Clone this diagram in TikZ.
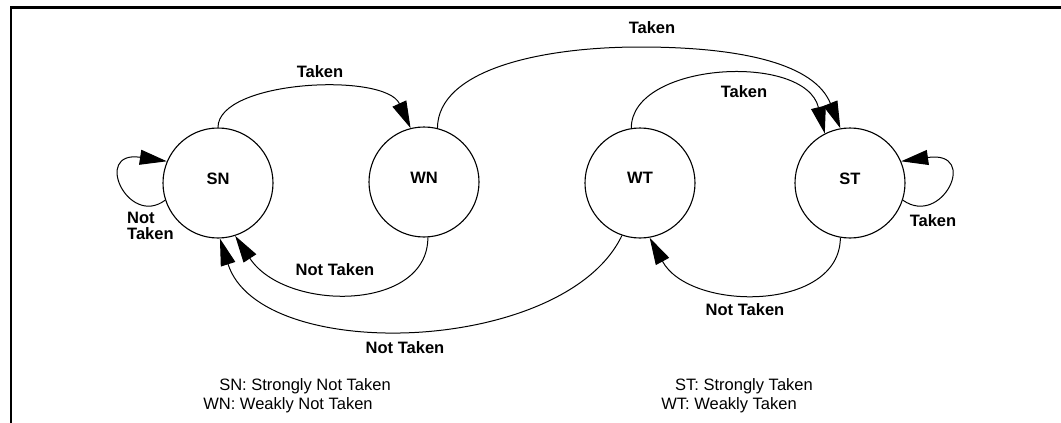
\documentclass[tikz,border=0pt]{standalone}
\usepackage{fontspec}
\setmainfont{Liberation Sans}
\usetikzlibrary{arrows.meta}
\tikzset{
  state/.style={circle, draw, line width=1.1pt, minimum size=110pt, inner sep=0pt,
    font=\bfseries\fontsize{16.5}{18}\selectfont},
  edge/.style={line width=1pt, -{Triangle[length=27pt,width=15pt]}},
  elabel/.style={font=\bfseries\fontsize{16.5}{18}\selectfont, inner sep=0pt},
  legend/.style={font=\fontsize{16.5}{19}\selectfont, inner sep=0pt},
  frame/.style={line width=2.2pt}
}
\begin{document}
\begin{tikzpicture}[x=1pt,y=-1pt]
\useasboundingbox (0,0) rectangle (1061,423);
\draw[frame] (1061,7.5) -- (11,7.5) -- (11,423);

\node[state] (SN) at (218,183) {\raisebox{9pt}{SN}};
\node[state] (WN) at (424,182) {\raisebox{9pt}{WN}};
\node[state] (WT) at (640,183) {\raisebox{10pt}{WT}};
\node[state] (ST) at (850,183) {\raisebox{9pt}{ST}};

% Taken transitions (top)
\draw[edge] (SN.90) .. controls (218,80) and (385,72) .. (WN.104);
\draw[edge] (WN.76) .. controls (438,70) and (540,47) .. (640,47)
                    .. controls (745,47) and (815,65) .. (ST.100);
\draw[edge] (WT.99) .. controls (631,62) and (805,52) .. (ST.117);

% Not Taken transitions (bottom)
\draw[edge] (WN.274) .. controls (428,312) and (285,312) .. (SN.288);
\draw[edge] (WT.251) .. controls (565,355) and (260,365) .. (SN.272);
\draw[edge] (ST.260) .. controls (840,312) and (690,312) .. (WT.280);

% self loops
\draw[edge] (SN.198) .. controls (128,228) and (92,150) .. (SN.157);
\draw[edge] (ST.-18) .. controls (942,228) and (980,150) .. (ST.23);

% labels
\node[elabel] (l1) at (320,72) {Taken};
\node[elabel] (l2) at (652,28) {Taken};
\node[elabel] (l3) at (744,92) {Taken};
\node[elabel] (l4) at (335,270) {Not Taken};
\node[elabel] (l5) at (405,348) {Not Taken};
\node[elabel] (l6) at (745,310) {Not Taken};
\node[elabel, align=left, anchor=west] (l7) at (127,226) {Not\\[-2pt]Taken};
\node[elabel] (l8) at (933,221) {Taken};

% legend
\node[legend] (g1) at (305,386) {SN: Strongly Not Taken};
\node[legend] (g2) at (288,405) {WN: Weakly Not Taken};
\node[legend] (g3) at (744,386) {ST: Strongly Taken};
\node[legend] (g4) at (729,405) {WT: Weakly Taken};
\end{tikzpicture}
\end{document}
